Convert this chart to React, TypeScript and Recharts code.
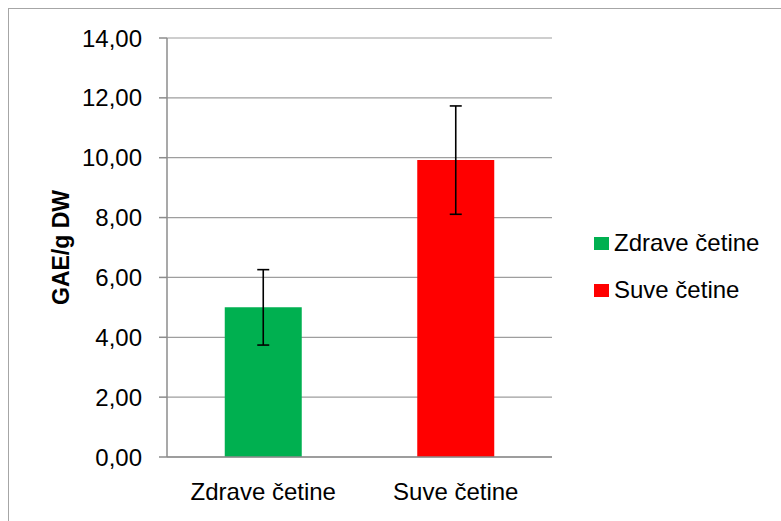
import type { ReactElement } from 'react';
import {
  BarChart,
  Bar,
  Cell,
  ErrorBar,
  XAxis,
  YAxis,
  CartesianGrid,
  Legend,
  Label,
} from 'recharts';

/* ------------------------------------------------------------------ */
/*  Data                                        */
/* ------------------------------------------------------------------ */

const categories = ['Zdrave četine', 'Suve četine'];
const means = [5.0, 9.92];
const errors = [1.26, 1.81];
const colors = ['#00b050', '#ff0000'];
const yTicks = [0, 2, 4, 6, 8, 10, 12, 14];

const data = categories.map((name, i) => ({
  name,
  value: means[i],
  err: errors[i],
}));

const FONT = '"Liberation Sans", Arial, sans-serif';

const fmt = (v: number): string => v.toFixed(2).replace('.', ',');

/* ------------------------------------------------------------------ */
/*  Pieces                                                             */
/* ------------------------------------------------------------------ */

function YTitle(props: any): ReactElement {
  const vb = props.viewBox ?? { x: 68, y: 29, width: 90, height: 419 };
  const x = vb.x - 8;
  const y = vb.y + vb.height / 2;
  return (
    <text
      x={x}
      y={y}
      transform={`rotate(-90, ${x}, ${y})`}
      textAnchor="middle"
      fontFamily={FONT}
      fontSize={23}
      fontWeight="bold"
      fill="#000"
    >
      GAE/g DW
    </text>
  );
}

function LegendBox(): ReactElement {
  return (
    <div style={{ fontFamily: FONT, fontSize: 24, color: '#000' }}>
      {categories.map((c, i) => (
        <div
          key={c}
          style={{
            display: 'flex',
            alignItems: 'center',
            height: 24,
            lineHeight: '24px',
            marginTop: i === 0 ? 0 : 23,
            whiteSpace: 'nowrap',
          }}
        >
          <span
            style={{
              display: 'inline-block',
              width: 15,
              height: 13,
              background: colors[i],
              marginRight: 5,
            }}
          />
          {c}
        </div>
      ))}
    </div>
  );
}

/* ------------------------------------------------------------------ */
/*  Component                                                          */
/* ------------------------------------------------------------------ */

export default function App(): ReactElement {
  return (
    <div
      style={{
        position: 'fixed',
        left: 8,
        top: 8,
        width: 772,
        height: 512,
        borderLeft: '1px solid #a6a6a6',
        borderTop: '1px solid #a6a6a6',
        background: '#fff',
      }}
    >
      <BarChart
        width={772}
        height={512}
        data={data}
        margin={{ top: 29, right: 229, bottom: 34, left: 68 }}
        barCategoryGap="30%"
      >
        <CartesianGrid vertical={false} stroke="#9e9e9e" strokeWidth={1.2} />

        <XAxis
          dataKey="name"
          height={30}
          axisLine={{ stroke: '#8c8c8c', strokeWidth: 1.5 }}
          tickLine={false}
          tickSize={0}
          tickMargin={26}
          tick={{ fill: '#000', fontSize: 24, fontFamily: FONT }}
        />

        <YAxis
          width={90}
          domain={[0, 14]}
          ticks={yTicks}
          tickFormatter={fmt}
          axisLine={{ stroke: '#8c8c8c', strokeWidth: 1.5 }}
          tickLine={{ stroke: '#8c8c8c', strokeWidth: 1.5 }}
          tickSize={8}
          tickMargin={17}
          tick={{ fill: '#000', fontSize: 24, fontFamily: FONT }}
          interval={0}
        >
          <Label content={YTitle} />
        </YAxis>

        <Legend
          layout="vertical"
          align="center"
          verticalAlign="middle"
          wrapperStyle={{ left: 585, top: 222, width: 180 }}
          content={LegendBox}
        />

        <Bar dataKey="value" isAnimationActive={false}>
          {data.map((d, i) => (
            <Cell key={d.name} fill={colors[i]} />
          ))}
          <ErrorBar
            dataKey="err"
            direction="y"
            width={6}
            stroke="#000"
            strokeWidth={1.6}
            isAnimationActive={false}
          />
        </Bar>
      </BarChart>
    </div>
  );
}
